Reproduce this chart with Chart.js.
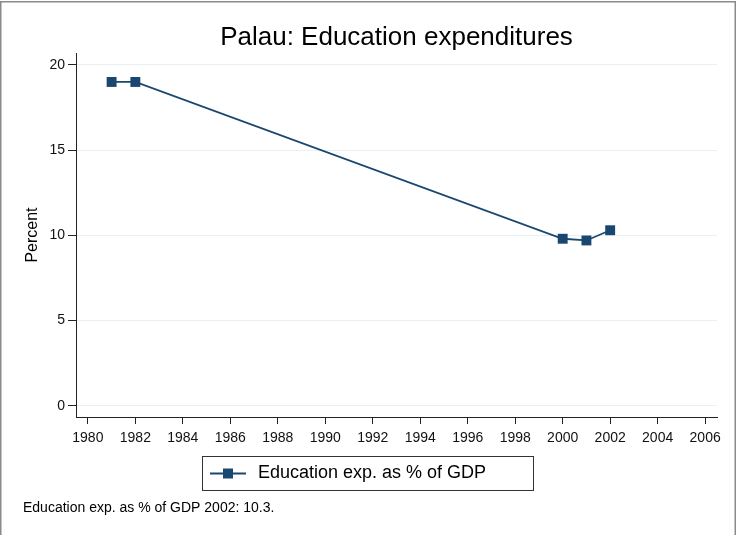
<!DOCTYPE html>
<html>
<head>
<meta charset="utf-8">
<script src="https://cdn.jsdelivr.net/npm/chart.js@4/dist/chart.umd.min.js"></script>
<style>
    html, body { margin: 0; padding: 0; background: #fff; }
    #wrap { width: 736px; height: 535px; position: relative; }
</style>
</head>
<body>
<div id="wrap"><canvas id="chart" width="736" height="535"></canvas></div>
<script>
const chartTitle = 'Palau: Education expenditures';
const seriesLabel = 'Education exp. as % of GDP';
const noteText = 'Education exp. as % of GDP 2002: 10.3.';
const yAxisTitle = 'Percent';

const years = [1981, 1982, 2000, 2001, 2002];
const eduValues = [19.0, 19.0, 9.8, 9.7, 10.3];

const xTicks = [1980, 1982, 1984, 1986, 1988, 1990, 1992, 1994, 1996, 1998, 2000, 2002, 2004, 2006];
const yTicks = [0, 5, 10, 15, 20];

const FONT = "'Liberation Sans', Arial, Helvetica, sans-serif";
const NAVY = '#1a476f';

// title, legend box, note and outer frame (Stata-like)
const decorPlugin = {
    id: 'decor',
    afterDraw(chart) {
        const ctx = chart.ctx;
        const area = chart.chartArea;
        ctx.save();

        // outer frame
        ctx.strokeStyle = '#8a8a8a';
        ctx.lineWidth = 1.5;
        ctx.strokeRect(0.75, 1.75, 734.5, 540);

        // title
        ctx.fillStyle = '#000';
        ctx.font = `26px ${FONT}`;
        ctx.textAlign = 'center';
        ctx.textBaseline = 'middle';
        ctx.fillText(chartTitle, (area.left + area.right) / 2, 38);

        // legend
        const lx = 202, ly = 456, lw = 331, lh = 34;
        ctx.strokeStyle = '#333';
        ctx.lineWidth = 1;
        ctx.strokeRect(lx + 0.5, ly + 0.5, lw, lh);
        const cy = ly + lh / 2 + 0.5;
        ctx.strokeStyle = NAVY;
        ctx.lineWidth = 1.8;
        ctx.beginPath();
        ctx.moveTo(lx + 8, cy);
        ctx.lineTo(lx + 44, cy);
        ctx.stroke();
        ctx.fillStyle = NAVY;
        ctx.fillRect(lx + 26 - 5, cy - 5, 10, 10);
        ctx.fillStyle = '#000';
        ctx.font = `18px ${FONT}`;
        ctx.textAlign = 'left';
        ctx.fillText(chart.data.datasets[0].label, lx + 56, cy);

        // note
        ctx.font = `14px ${FONT}`;
        ctx.fillText(noteText, 23, 508);
        ctx.restore();
    }
};

new Chart(document.getElementById('chart'), {
    type: 'line',
    data: {
        datasets: [{
            label: seriesLabel,
            data: years.map((y, i) => ({ x: y, y: eduValues[i] })),
            borderColor: NAVY,
            backgroundColor: NAVY,
            borderWidth: 1.8,
            pointStyle: 'rect',
            pointRadius: 7,
            pointBorderWidth: 0,
            tension: 0
        }]
    },
    plugins: [decorPlugin],
    options: {
        responsive: false,
        animation: false,
        devicePixelRatio: 1,
        layout: { padding: { top: 53, right: 19, bottom: 88, left: 0 } },
        plugins: {
            legend: { display: false },
            title: { display: false },
            tooltip: { enabled: false }
        },
        scales: {
            x: {
                type: 'linear',
                min: 1979.5,
                max: 2006.5,
                afterBuildTicks: scale => { scale.ticks = xTicks.map(v => ({ value: v })); },
                afterFit: scale => { scale.height = 30; },
                grid: {
                    drawOnChartArea: false,
                    drawTicks: true,
                    tickLength: 7,
                    tickColor: '#222'
                },
                border: { display: true, color: '#222', width: 1 },
                ticks: {
                    color: '#111',
                    font: { family: FONT, size: 14 },
                    padding: 6,
                    maxRotation: 0,
                    autoSkip: false,
                    callback: v => String(v)
                }
            },
            y: {
                min: -0.66,
                max: 20.7,
                afterBuildTicks: scale => { scale.ticks = yTicks.map(v => ({ value: v })); },
                afterFit: scale => { scale.width = 76; },
                grid: {
                    color: '#e8f0f2',
                    lineWidth: 1,
                    drawTicks: true,
                    tickLength: 8,
                    tickColor: '#222'
                },
                border: { display: true, color: '#222', width: 1 },
                ticks: {
                    color: '#111',
                    font: { family: FONT, size: 14 },
                    padding: 3,
                    autoSkip: false,
                    callback: v => String(v)
                },
                title: {
                    display: true,
                    text: yAxisTitle,
                    color: '#000',
                    font: { family: FONT, size: 16 },
                    padding: { top: 23, bottom: 0 }
                }
            }
        }
    }
});
</script>
</body>
</html>
